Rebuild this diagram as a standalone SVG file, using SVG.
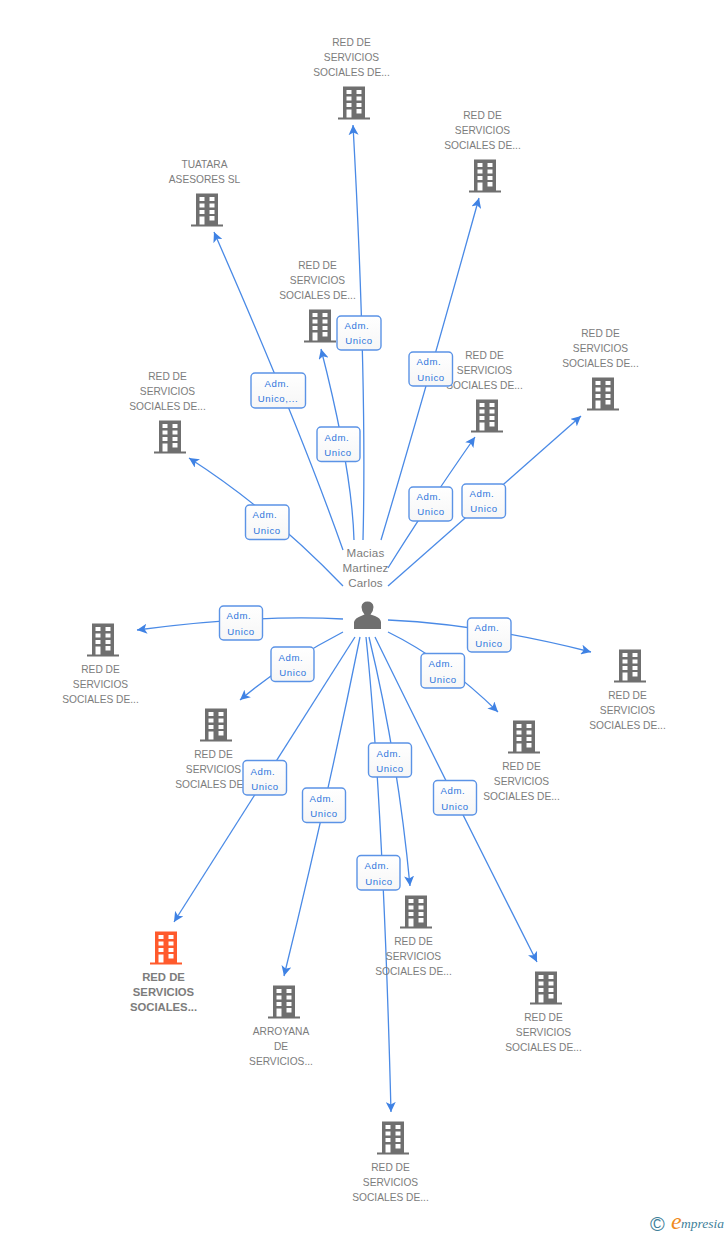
<svg xmlns="http://www.w3.org/2000/svg" width="728" height="1235" viewBox="0 0 728 1235">
<style>
text{font-family:"Liberation Sans",Arial,sans-serif}
.l{font-size:10.2px;fill:#7c7c7c;text-anchor:middle}
.c path{fill:none;stroke:#4a8ae6;stroke-width:1.3}
.b rect{fill:url(#g);stroke:#5b93e6;stroke-width:1.4}
.b text{font-size:9.6px;fill:#2f76dc;text-anchor:middle;letter-spacing:.6px}
</style>
<defs>
<linearGradient id="g" x1="0" y1="0" x2="0" y2="1"><stop offset="0" stop-color="#fff"/><stop offset="1" stop-color="#f6f6f6"/></linearGradient>
<marker id="a" markerWidth="11" markerHeight="10" refX="10" refY="5" orient="auto" markerUnits="userSpaceOnUse"><path d="M0 0L10 5L0 10L2.5 5Z" fill="#3f82e4"/></marker>
<symbol id="h" viewBox="-16 -17 32 34" width="32" height="34" overflow="visible">
<path fill-rule="evenodd" d="M-11-16.5H11V14.5H16V16.5H-16V14.5H-11ZM-7.5-13V-9H-2.5V-13ZM2.5-13V-9H7.500V-13ZM-7.500-6.500V-2.500H-2.500V-6.500ZM2.500-6.500V-2.500H7.500V-6.500ZM-7.500 0V4H-2.500V0ZM2.500 0V4H7.500V0ZM-7.500 6.500V14.500H-2.500V6.500ZM2.500 6V10.500H7.500V6Z"/>
</symbol>
</defs>
<g class="c" id="connectors">
<path marker-end="url(#a)" d="M343 550Q300 428 214 232"/>
<path marker-end="url(#a)" d="M354 540Q352 470 321 349"/>
<path marker-end="url(#a)" d="M363 540Q367 380 353 125"/>
<path marker-end="url(#a)" d="M381 540Q420 410 479 198"/>
<path marker-end="url(#a)" d="M388 568Q424 510 475 437"/>
<path marker-end="url(#a)" d="M388 586Q480 505 581 416"/>
<path marker-end="url(#a)" d="M343 586Q270 510 189 458"/>
<path marker-end="url(#a)" d="M343 619Q260 614 137 630"/>
<path marker-end="url(#a)" d="M388 620Q480 624 591 652"/>
<path marker-end="url(#a)" d="M343 632Q285 662 240 700"/>
<path marker-end="url(#a)" d="M388 632Q445 660 498 712"/>
<path marker-end="url(#a)" d="M355 637Q270 770 174 922"/>
<path marker-end="url(#a)" d="M360 637Q325 810 284 976"/>
<path marker-end="url(#a)" d="M366 637Q383 800 391 1112"/>
<path marker-end="url(#a)" d="M369 637Q398 758 410 886"/>
<path marker-end="url(#a)" d="M375 637Q450 790 537 962"/>
</g>
<g id="person">
<text class="l" style="font-size:11.600px;letter-spacing:.2px"><tspan x="365.500" y="557">Macias</tspan><tspan x="365.500" y="572">Martinez</tspan><tspan x="365.500" y="587">Carlos</tspan></text>
<path fill="#6f6f6f" d="M354 629V622Q355 618 361 616L364.500 614.500Q361.500 611 361.500 607Q362 601.500 367.500 601.500Q373 601.500 373.500 607Q373.500 611 370.500 614.500L375 616Q380.500 618 381 622V629Z"/>
</g>
<g id="n1" fill="#6f6f6f"><use href="#h" x="338" y="86"/><text class="l"><tspan x="351.500" y="46">RED DE</tspan><tspan x="351.500" y="61">SERVICIOS</tspan><tspan x="351.500" y="76">SOCIALES DE...</tspan></text></g>
<g id="n2" fill="#6f6f6f"><use href="#h" x="469" y="159"/><text class="l"><tspan x="482.500" y="119">RED DE</tspan><tspan x="482.500" y="134">SERVICIOS</tspan><tspan x="482.500" y="149">SOCIALES DE...</tspan></text></g>
<g id="n3" fill="#6f6f6f"><use href="#h" x="191" y="193"/><text class="l"><tspan x="204.500" y="168">TUATARA</tspan><tspan x="204.500" y="183">ASESORES SL</tspan></text></g>
<g id="n4" fill="#6f6f6f"><use href="#h" x="304" y="309"/><text class="l"><tspan x="317.500" y="269">RED DE</tspan><tspan x="317.500" y="284">SERVICIOS</tspan><tspan x="317.500" y="299">SOCIALES DE...</tspan></text></g>
<g id="n5" fill="#6f6f6f"><use href="#h" x="471" y="399"/><text class="l"><tspan x="484.500" y="359">RED DE</tspan><tspan x="484.500" y="374">SERVICIOS</tspan><tspan x="484.500" y="389">SOCIALES DE...</tspan></text></g>
<g id="n6" fill="#6f6f6f"><use href="#h" x="587" y="377"/><text class="l"><tspan x="600.500" y="337">RED DE</tspan><tspan x="600.500" y="352">SERVICIOS</tspan><tspan x="600.500" y="367">SOCIALES DE...</tspan></text></g>
<g id="n7" fill="#6f6f6f"><use href="#h" x="154" y="420"/><text class="l"><tspan x="167.500" y="380">RED DE</tspan><tspan x="167.500" y="395">SERVICIOS</tspan><tspan x="167.500" y="410">SOCIALES DE...</tspan></text></g>
<g id="n8" fill="#6f6f6f"><use href="#h" x="87" y="623"/><text class="l"><tspan x="100.500" y="673">RED DE</tspan><tspan x="100.500" y="688">SERVICIOS</tspan><tspan x="100.500" y="703">SOCIALES DE...</tspan></text></g>
<g id="n9" fill="#6f6f6f"><use href="#h" x="614" y="649"/><text class="l"><tspan x="627.500" y="699">RED DE</tspan><tspan x="627.500" y="714">SERVICIOS</tspan><tspan x="627.500" y="729">SOCIALES DE...</tspan></text></g>
<g id="n10" fill="#6f6f6f"><use href="#h" x="508" y="720"/><text class="l"><tspan x="521.500" y="770">RED DE</tspan><tspan x="521.500" y="785">SERVICIOS</tspan><tspan x="521.500" y="800">SOCIALES DE...</tspan></text></g>
<g id="n11" fill="#6f6f6f"><use href="#h" x="200" y="708"/><text class="l"><tspan x="213.500" y="758">RED DE</tspan><tspan x="213.500" y="773">SERVICIOS</tspan><tspan x="213.500" y="788">SOCIALES DE...</tspan></text></g>
<g id="n12" fill="#6f6f6f"><use href="#h" x="400" y="895"/><text class="l"><tspan x="413.500" y="945">RED DE</tspan><tspan x="413.500" y="960">SERVICIOS</tspan><tspan x="413.500" y="975">SOCIALES DE...</tspan></text></g>
<g id="n13" fill="#ff5a2c"><use href="#h" x="150" y="931"/><text class="l" style="font-size:11.300px;font-weight:bold"><tspan x="163.500" y="981">RED DE</tspan><tspan x="163.500" y="996">SERVICIOS</tspan><tspan x="163.500" y="1011">SOCIALES...</tspan></text></g>
<g id="n14" fill="#6f6f6f"><use href="#h" x="268" y="985"/><text class="l"><tspan x="281" y="1035">ARROYANA</tspan><tspan x="281" y="1050">DE</tspan><tspan x="281" y="1065">SERVICIOS...</tspan></text></g>
<g id="n15" fill="#6f6f6f"><use href="#h" x="530" y="971"/><text class="l"><tspan x="543.500" y="1021">RED DE</tspan><tspan x="543.500" y="1036">SERVICIOS</tspan><tspan x="543.500" y="1051">SOCIALES DE...</tspan></text></g>
<g id="n16" fill="#6f6f6f"><use href="#h" x="377" y="1121"/><text class="l"><tspan x="390.500" y="1171">RED DE</tspan><tspan x="390.500" y="1186">SERVICIOS</tspan><tspan x="390.500" y="1201">SOCIALES DE...</tspan></text></g>
<g id="edge-labels" class="b">
<g><rect x="251" y="373" width="54.500" height="35" rx="4"/><text x="277" y="387">Adm.</text><text x="278" y="402">Unico,...</text></g>
<g><rect x="317" y="427" width="43" height="34.500" rx="4"/><text x="337" y="441">Adm.</text><text x="338" y="456">Unico</text></g>
<g><rect x="337" y="316" width="44" height="34" rx="4"/><text x="357" y="329">Adm.</text><text x="359" y="344">Unico</text></g>
<g><rect x="409" y="352" width="43.500" height="34" rx="4"/><text x="429" y="365">Adm.</text><text x="431" y="381">Unico</text></g>
<g><rect x="409" y="487" width="43.500" height="34" rx="4"/><text x="429" y="500">Adm.</text><text x="431" y="515">Unico</text></g>
<g><rect x="462" y="484" width="43.500" height="34" rx="4"/><text x="482" y="497">Adm.</text><text x="484" y="512">Unico</text></g>
<g><rect x="245.500" y="505" width="43.500" height="34.500" rx="4"/><text x="265" y="518">Adm.</text><text x="267" y="534">Unico</text></g>
<g><rect x="219.500" y="606" width="43" height="34" rx="4"/><text x="239" y="619">Adm.</text><text x="241" y="635">Unico</text></g>
<g><rect x="467.500" y="618" width="43.500" height="34" rx="4"/><text x="487" y="631">Adm.</text><text x="489" y="647">Unico</text></g>
<g><rect x="271" y="647" width="43" height="34.500" rx="4"/><text x="291" y="661">Adm.</text><text x="293" y="676">Unico</text></g>
<g><rect x="421" y="653.500" width="43.500" height="34.500" rx="4"/><text x="441" y="667">Adm.</text><text x="443" y="683">Unico</text></g>
<g><rect x="243" y="760.500" width="43.500" height="34.500" rx="4"/><text x="263" y="775">Adm.</text><text x="265" y="790">Unico</text></g>
<g><rect x="302.500" y="788" width="43" height="34.500" rx="4"/><text x="322" y="802">Adm.</text><text x="324" y="817">Unico</text></g>
<g><rect x="368.500" y="743" width="43" height="34" rx="4"/><text x="389" y="757">Adm.</text><text x="390" y="772">Unico</text></g>
<g><rect x="357" y="855.500" width="43" height="34.500" rx="4"/><text x="377" y="869">Adm.</text><text x="379" y="885">Unico</text></g>
<g><rect x="433.500" y="780.500" width="43" height="34.500" rx="4"/><text x="453" y="794">Adm.</text><text x="455" y="810">Unico</text></g>
</g>
<g id="logo">
<text x="650" y="1231" style="font-size:20px;fill:#3f7f9a">©</text>
<text x="671" y="1229" style="font-family:'Liberation Serif',serif;font-size:24px;font-style:italic;fill:#f08a1d">e</text>
<text x="681" y="1228" style="font-family:'Liberation Serif',serif;font-size:13.500px;font-style:italic;fill:#3f7f9a">mpresia</text>
</g>
</svg>
